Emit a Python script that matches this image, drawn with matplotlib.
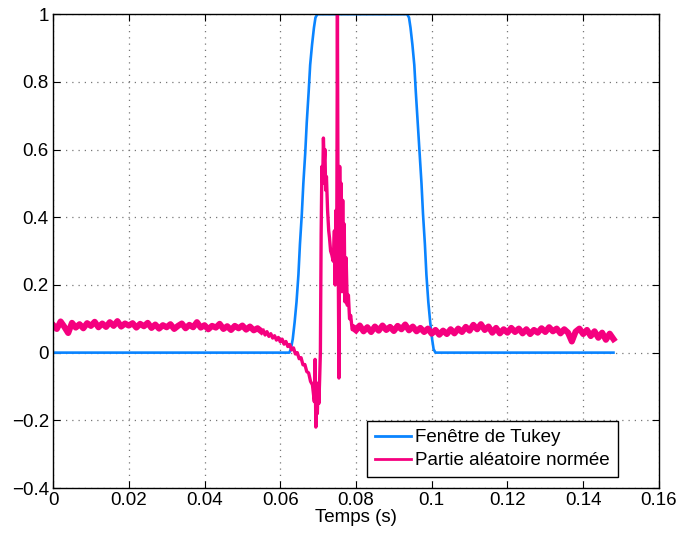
import numpy as np
import matplotlib
matplotlib.use('Agg')
import matplotlib.pyplot as plt
from matplotlib.lines import Line2D

plt.rcParams['font.family'] = ['Liberation Sans', 'DejaVu Sans']

# Tukey window
t_tukey = [0.0, 0.0624, 0.0628, 0.0633, 0.0638, 0.0643, 0.0648, 0.0652, 0.0657, 0.0661,
           0.0666, 0.0670, 0.0675, 0.0679, 0.0684, 0.0689, 0.0693, 0.0698,
           0.0935, 0.0940, 0.0944, 0.0949, 0.0954, 0.0958, 0.0963, 0.0968, 0.0973,
           0.0977, 0.0982, 0.0986, 0.0991, 0.0996, 0.1001, 0.1005, 0.1010, 0.148]
w_tukey = [0.0, 0.0, 0.01, 0.04, 0.09, 0.15, 0.23, 0.32, 0.41, 0.5,
           0.59, 0.68, 0.77, 0.85, 0.91, 0.96, 0.99, 1.0,
           1.0, 0.99, 0.96, 0.91, 0.85, 0.77, 0.68, 0.59, 0.5,
           0.41, 0.32, 0.23, 0.15, 0.09, 0.04, 0.01, 0.0, 0.0]

# normalised random part, left baseline (one value per ms from 0 to 0.055 s)
t_left = np.arange(56) * 0.001
y_left = [0.082, 0.07, 0.092, 0.076, 0.058, 0.088, 0.074, 0.084, 0.072, 0.087,
          0.079, 0.091, 0.075, 0.086, 0.076, 0.09, 0.079, 0.093, 0.077, 0.086,
          0.08, 0.087, 0.074, 0.085, 0.078, 0.088, 0.073, 0.083, 0.071, 0.081,
          0.075, 0.084, 0.07, 0.079, 0.086, 0.072, 0.082, 0.075, 0.09, 0.074,
          0.081, 0.069, 0.079, 0.074, 0.085, 0.07, 0.078, 0.067, 0.079, 0.072,
          0.08, 0.068, 0.077, 0.066, 0.072, 0.063]

# event region
t_mid = [0.0555, 0.056, 0.0565, 0.057, 0.0575, 0.058, 0.0585, 0.059, 0.0595, 0.060,
         0.0605, 0.061, 0.0615, 0.062, 0.0625, 0.063, 0.0635, 0.064, 0.0645, 0.065,
         0.0655, 0.066, 0.0665, 0.067, 0.0675, 0.068, 0.0685, 0.069, 0.0692, 0.0694,
         0.0696, 0.0698, 0.070, 0.0702, 0.0704, 0.0706, 0.0708, 0.071, 0.0712, 0.0714,
         0.0716, 0.0718, 0.072, 0.0722, 0.0725, 0.0728, 0.073, 0.0733, 0.0736, 0.074,
         0.0743, 0.0745, 0.0747, 0.0749, 0.0751, 0.0753, 0.0755, 0.0757, 0.0759, 0.0761,
         0.0763, 0.0765, 0.0767, 0.0769, 0.0771, 0.0774, 0.0777, 0.078, 0.0783, 0.0786,
         0.079, 0.0795]
y_mid = [0.066, 0.052, 0.062, 0.048, 0.056, 0.043, 0.05, 0.037, 0.045, 0.032,
         0.04, 0.025, 0.033, 0.018, 0.024, 0.008, 0.014, -0.004, 0.0, -0.018,
         -0.015, -0.036, -0.035, -0.056, -0.06, -0.085, -0.095, -0.145, -0.02, -0.22,
         -0.12, -0.18, -0.09, -0.15, -0.08, 0.0, 0.35, 0.55, 0.5, 0.634,
         0.56, 0.6, 0.48, 0.52, 0.42, 0.36, 0.34, 0.3, 0.29, 0.27,
         0.36, 0.2, 0.42, 0.25, 1.0, 0.3, -0.075, 0.55, 0.2, 0.5,
         0.18, 0.45, 0.2, 0.38, 0.15, 0.28, 0.14, 0.17, 0.1, 0.11,
         0.068, 0.078]

# right baseline (one value per ms from 0.080 to 0.148 s)
t_right = 0.080 + np.arange(69) * 0.001
y_right = [0.066, 0.08, 0.063, 0.075, 0.061, 0.077, 0.065, 0.08, 0.067, 0.076,
           0.064, 0.079, 0.069, 0.083, 0.066, 0.077, 0.063, 0.073, 0.061, 0.071,
           0.056, 0.067, 0.053, 0.065, 0.055, 0.069, 0.057, 0.071, 0.061, 0.076,
           0.065, 0.082, 0.069, 0.084, 0.067, 0.077, 0.059, 0.073, 0.057, 0.069,
           0.059, 0.073, 0.061, 0.071, 0.057, 0.069, 0.055, 0.067, 0.059, 0.072,
           0.061, 0.075, 0.063, 0.071, 0.057, 0.069, 0.059, 0.033, 0.062, 0.071,
           0.055, 0.067, 0.049, 0.063, 0.044, 0.059, 0.038, 0.056, 0.04]

pink = '#F5007F'
blue = '#0A84FF'

fig = plt.figure(figsize=(6.8, 5.33), dpi=100)
ax = fig.add_axes([0.078, 0.0844, 0.891, 0.889])

ax.plot(t_tukey, w_tukey, color=blue, lw=1.9)
ax.plot(t_left, y_left, color=pink, lw=4.4, solid_joinstyle='round')
ax.plot(t_mid, y_mid, color=pink, lw=2.4)
ax.plot(t_right, y_right, color=pink, lw=4.4, solid_joinstyle='round')

ax.set_xlim(0, 0.16)
ax.set_ylim(-0.4, 1)
ax.set_xticks(np.arange(0, 0.161, 0.02))
ax.set_yticks(np.arange(-0.4, 1.01, 0.2))
ax.set_xticklabels(['0', '0.02', '0.04', '0.06', '0.08', '0.1', '0.12', '0.14', '0.16'])
ax.set_yticklabels(['\u22120.4', '\u22120.2', '0', '0.2', '0.4', '0.6', '0.8', '1'])
ax.tick_params(direction='in', top=True, right=True, labelsize=13.5, length=5, pad=3)
ax.grid(True, linestyle=(0, (1, 4)), color='#777777', lw=0.9)
for s in ax.spines.values():
    s.set_linewidth(1.0)

ax.set_xlabel('Temps (s)', fontsize=13.5, labelpad=0)

handles = [Line2D([], [], color=blue, lw=2), Line2D([], [], color=pink, lw=2)]
labels = ['Fenêtre de Tukey', 'Partie aléatoire normée']
leg = ax.legend(handles, labels, loc='lower right', bbox_to_anchor=(0.932, 0.023),
                borderaxespad=0, fontsize=13.5, fancybox=False, framealpha=1,
                edgecolor='black', handlelength=1.95, handletextpad=0.2,
                labelspacing=0.3, borderpad=0.42)
leg.get_frame().set_linewidth(1.0)

fig.savefig('out.png', dpi=100)
